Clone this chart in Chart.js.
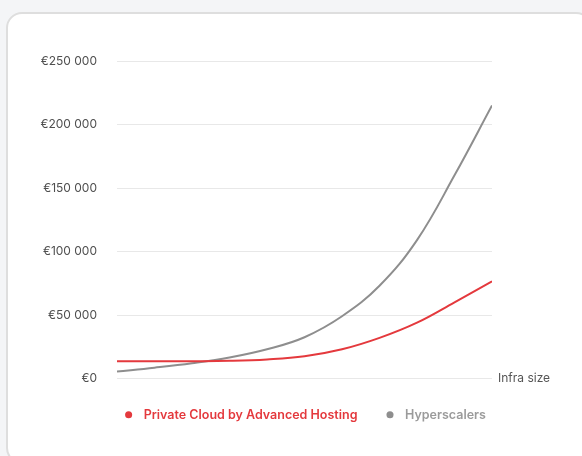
<!DOCTYPE html>
<html>
<head>
<meta charset="utf-8">
<script src="https://cdn.jsdelivr.net/npm/chart.js@4.4.1/dist/chart.umd.min.js"></script>
<style>
  html, body { margin: 0; padding: 0; background: #f4f5f7; }
  body { width: 582px; height: 456px; overflow: hidden; position: relative; }
  .card {
    position: absolute; left: 6px; top: 12px; width: 586px; height: 452px;
    background: #fff; border: 2px solid #dedede; border-radius: 16px; box-sizing: border-box;
  }
  #grafico { position: absolute; left: 0; top: 0; }
</style>
</head>
<body>
<div class="card"></div>
<canvas id="grafico" width="582" height="456"></canvas>
<script>
const infraSize = [0, 1, 2, 3, 4, 5, 6, 7, 8, 9, 10];
const privateCloud = [13500, 13500, 13600, 13900, 15000, 17500, 23000, 32000, 44000, 60000, 76500];
const hyperscalers = [5500, 8500, 12000, 16500, 23000, 32500, 49000, 73000, 109000, 160000, 215000];
const yTicks = [0, 50000, 100000, 150000, 200000, 250000];

const corVermelha = "#e4393d";
const corCinza = "#8e8e8e";

function formatarEuro(v) {
  return "€" + String(v).replace(/\B(?=(\d{3})+(?!\d))/g, " ");
}

const rotuloEixo = {
  id: "rotuloEixo",
  afterDraw(chart) {
    const { ctx, chartArea, scales } = chart;
    ctx.save();
    ctx.font = "12px Inter, 'Noto Sans', sans-serif";
    ctx.fillStyle = "#555";
    ctx.textBaseline = "middle";
    ctx.textAlign = "left";
    ctx.fillText("Infra size", chartArea.right + 6, scales.y.getPixelForValue(0));
    ctx.restore();
  }
};

new Chart(document.getElementById("grafico"), {
  type: "line",
  data: {
    datasets: [
      {
        label: "Private Cloud by Advanced Hosting",
        data: infraSize.map((x, i) => ({ x, y: privateCloud[i] })),
        borderColor: corVermelha,
        backgroundColor: corVermelha,
        borderWidth: 2,
        pointRadius: 0,
        tension: 0.4
      },
      {
        label: "Hyperscalers",
        data: infraSize.map((x, i) => ({ x, y: hyperscalers[i] })),
        borderColor: corCinza,
        backgroundColor: corCinza,
        borderWidth: 2,
        pointRadius: 0,
        tension: 0.4
      }
    ]
  },
  options: {
    responsive: false,
    animation: false,
    devicePixelRatio: 1,
    layout: { padding: { left: 36, right: 6, top: 61, bottom: 25 } },
    scales: {
      x: {
        type: "linear",
        min: 0,
        max: 10,
        display: false
      },
      y: {
        min: 0,
        max: 250000,
        afterBuildTicks: (s) => { s.ticks = yTicks.map(v => ({ value: v })); },
        afterFit: (s) => { s.width = 81; },
        border: { display: false },
        grid: { color: "#e8e8e8", drawTicks: false, lineWidth: 1 },
        ticks: {
          padding: 20,
          color: "#4f4f4f",
          font: { family: "Inter, 'Noto Sans', sans-serif", size: 12 },
          callback: (v) => formatarEuro(v)
        }
      },
      espaco: {
        type: "linear",
        position: "right",
        afterFit: (s) => { s.width = 84; },
        border: { display: false },
        grid: { display: false },
        ticks: { display: false }
      }
    },
    plugins: {
      tooltip: { enabled: false },
      legend: {
        position: "bottom",
        labels: {
          usePointStyle: true,
          pointStyle: "circle",
          boxWidth: 5,
          boxHeight: 5,
          padding: 30,
          font: { family: "Inter, 'Noto Sans', sans-serif", size: 12.5, weight: "600" },
          generateLabels: (chart) => chart.data.datasets.map((d, i) => ({
            text: "\u2002" + d.label,
            fillStyle: d.borderColor,
            strokeStyle: d.borderColor,
            lineWidth: 0,
            pointStyle: "circle",
            fontColor: i === 0 ? corVermelha : "#9b9b9b",
            datasetIndex: i,
            hidden: false
          }))
        }
      }
    }
  },
  plugins: [rotuloEixo]
});
</script>
</body>
</html>
